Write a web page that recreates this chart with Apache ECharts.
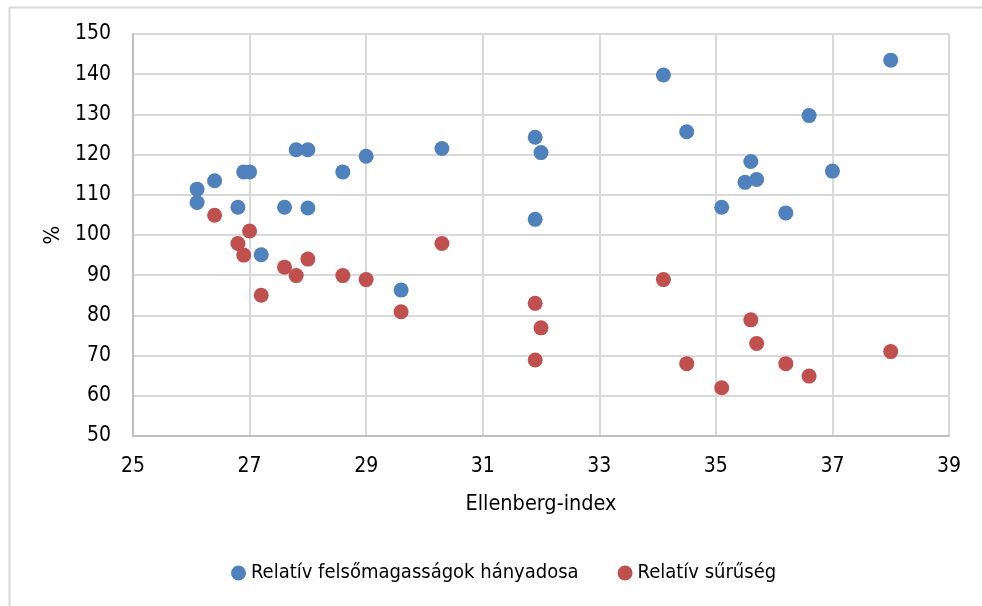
<!DOCTYPE html>
<html>
<head>
<meta charset="utf-8">
<script src="https://cdn.jsdelivr.net/npm/echarts@6/dist/echarts.min.js"></script>
<style>
html,body{margin:0;padding:0;background:#fff;}
#chart{width:982px;height:606px;}
</style>
</head>
<body>
<div id="chart"></div>
<script>
const seriesNames = ['Relatív felsőmagasságok hányadosa', 'Relatív sűrűség'];
const xAxisTitle = 'Ellenberg-index';
const yAxisTitle = '%';

const blueX = [26.1, 26.1, 26.4, 26.9, 27.0, 26.8, 27.8, 28.0, 27.6, 28.0, 27.2, 28.6, 29.0, 30.3, 29.6, 38.0, 34.1, 36.6, 34.5, 31.9, 32.0, 35.6, 37.0, 35.5, 35.7, 35.1, 36.2, 31.9];
const blueY = [111.4, 108.1, 113.5, 115.7, 115.7, 106.9, 121.2, 121.2, 106.9, 106.7, 95.1, 115.7, 119.6, 121.5, 86.3, 143.5, 139.8, 129.7, 125.7, 124.3, 120.5, 118.3, 115.9, 113.1, 113.8, 106.9, 105.5, 103.9];

const redX = [26.4, 27.0, 26.8, 26.9, 27.6, 27.8, 28.0, 28.6, 29.0, 30.3, 27.2, 29.6, 34.1, 31.9, 32.0, 31.9, 34.5, 35.1, 35.6, 35.7, 36.2, 36.6, 38.0];
const redY = [104.9, 101.0, 97.9, 95.0, 92.0, 89.9, 94.0, 89.9, 88.9, 97.9, 85.0, 80.9, 88.9, 83.0, 76.9, 68.9, 68.0, 62.0, 78.9, 73.0, 68.0, 64.9, 71.0];

const FONT = '"DejaVu Sans Condensed", "Liberation Sans Narrow", sans-serif';

const pairs = (xs, ys) => xs.map((x, i) => [x, ys[i]]);

const chart = echarts.init(document.getElementById('chart'), null, {renderer: 'canvas'});
chart.setOption({
  animation: false,
  backgroundColor: '#fff',
  textStyle: {fontFamily: FONT},
  graphic: [{
    type: 'rect', left: 7, top: 5, silent: true,
    shape: {width: 1100, height: 800},
    style: {fill: 'none', stroke: '#d9d9d9', lineWidth: 2}
  }],
  grid: {left: 133, right: 33, top: 34, bottom: 170},
  legend: {
    left: 226, top: 558,
    itemWidth: 15, itemHeight: 15, itemGap: 39,
    icon: 'circle',
    textStyle: {fontFamily: FONT, fontSize: 20, color: '#000'},
    data: seriesNames
  },
  xAxis: {
    type: 'value', min: 25, max: 39, interval: 2,
    name: xAxisTitle, nameLocation: 'middle', nameGap: 57,
    nameTextStyle: {fontFamily: FONT, fontSize: 21.5, color: '#000'},
    axisLine: {show: true, lineStyle: {color: '#bfbfbf', width: 2}},
    axisTick: {show: false},
    axisLabel: {fontFamily: FONT, fontSize: 21, color: '#000', margin: 20},
    splitLine: {show: true, lineStyle: {color: '#d9d9d9', width: 2}}
  },
  yAxis: {
    type: 'value', min: 50, max: 150, interval: 10,
    name: yAxisTitle, nameLocation: 'middle', nameGap: 64,
    nameTextStyle: {fontFamily: FONT, fontSize: 22, color: '#000'},
    axisLine: {show: true, lineStyle: {color: '#bfbfbf', width: 2}},
    axisTick: {show: false},
    axisLabel: {fontFamily: FONT, fontSize: 21, color: '#000', margin: 22},
    splitLine: {show: true, lineStyle: {color: '#d9d9d9', width: 2}}
  },
  series: [
    {name: seriesNames[0], type: 'scatter', symbol: 'circle', symbolSize: 15,
     itemStyle: {color: '#4f81bd', opacity: 1}, data: pairs(blueX, blueY)},
    {name: seriesNames[1], type: 'scatter', symbol: 'circle', symbolSize: 15,
     itemStyle: {color: '#c0504d', opacity: 1}, data: pairs(redX, redY)}
  ]
});
</script>
</body>
</html>
